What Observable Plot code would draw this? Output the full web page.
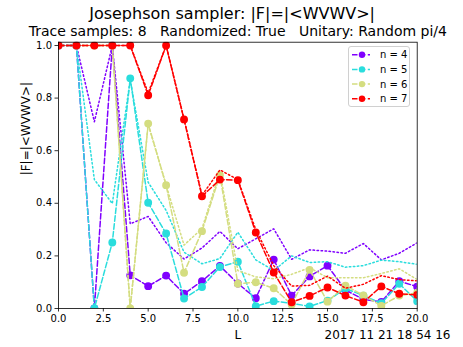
<!DOCTYPE html>
<html><head><meta charset="utf-8">
<script src="https://cdn.jsdelivr.net/npm/d3@7"></script>
<script src="https://cdn.jsdelivr.net/npm/@observablehq/plot@0.6"></script>
<style>
body{margin:0;background:#fff}
#wrap{position:relative;width:463px;height:347px;font-family:"DejaVu Sans",sans-serif}
svg text{white-space:pre}
#legend{position:absolute;left:348px;top:46px;width:62px;height:61px;border:1px solid #d0d0d0;border-radius:3px;background:rgba(255,255,255,0.8);box-sizing:border-box}
</style></head>
<body><div id="wrap"></div>
<script>
const L = [0,1,2,3,4,5,6,7,8,9,10,11,12,13,14,15,16,17,18,19,20];
const seriesNames = ["n = 4","n = 5","n = 6","n = 7"];
const seriesColors = ["#8000ff","#2adddd","#d4dd80","#ff0000"];
const sampled4 = [1,1,0,1,0.126,0.085,0.125,0.056,0.104,0.162,0.095,0.039,0.186,0.049,0.122,0.163,0.07,0.035,0.025,0.104,0.083];
const exact4   = [1,1,0.71,1,0.322,0.35,0.25,0.188,0.23,0.293,0.227,0.265,0.303,0.187,0.223,0.218,0.21,0.247,0.185,0.21,0.25];
const sampled5 = [1,1,0,0.251,0.875,0.402,0.285,0.038,0.082,0.158,0.178,0.009,0.028,0.02,0.008,0.03,0.076,0.049,0.02,0.094,0.028];
const exact5   = [1,1,0.49,0.399,0.87,0.48,0.373,0.214,0.17,0.19,0.29,0.185,0.144,0.2,0.175,0.178,0.157,0.163,0.184,0.178,0.168];
const sampled6 = [1,1,1,1,0,0.703,0.469,0.136,0.294,0.507,0.094,0.1,0.077,0.015,0.147,0.026,0.087,0.05,0.01,0.049,0.06];
const exact6   = [1,1,1,1,0,0.7,0.47,0.241,0.304,0.52,0.144,0.12,0.113,0.13,0.155,0.117,0.117,0.117,0.133,0.151,0.11];
const sampled7 = [1,1,1,1,1,0.811,1,0.719,0.427,0.49,0.488,0.289,0.137,0.024,0.048,0.08,0.049,0.024,0.084,0.056,0.052];
const exact7   = [1,1,1,1,1,0.82,1,0.72,0.43,0.527,0.49,0.30,0.163,0.085,0.088,0.123,0.077,0.092,0.125,0.11,0.105];
const xTicks = [0,2.5,5,7.5,10,12.5,15,17.5,20];
const yTicks = [0,0.2,0.4,0.6,0.8,1.0];
const titleText = "Josephson sampler: |F|=|<WVWV>|";
const subtitleText = "Trace samples: 8   Randomized: True   Unitary: Random pi/4";
const xLabel = "L";
const yLabel = "|F|=|<WVWV>|";
const dateText = "2017 11 21 18 54 16";

const sampled = [sampled4, sampled5, sampled6, sampled7];
const exact = [exact4, exact5, exact6, exact7];

const marks = [];
sampled.forEach((s, i) => {
  const color = seriesColors[i];
  const rowsS = L.map((l, j) => ({L: l, v: s[j]}));
  const rowsE = L.map((l, j) => ({L: l, v: exact[i][j]}));
  marks.push(Plot.line(rowsS, {x: "L", y: "v", stroke: color, strokeWidth: 1.5, strokeDasharray: "5.5,2.4", clip: true}));
  marks.push(Plot.dot(rowsS, {x: "L", y: "v", fill: color, stroke: color, r: 3.2, clip: true}));
  marks.push(Plot.line(rowsE, {x: "L", y: "v", stroke: color, strokeWidth: 1.5, strokeDasharray: "1.5,2.5", clip: true}));
});

marks.push(Plot.frame({stroke: "black", strokeWidth: 0.8}));
marks.push(Plot.axisX({ticks: xTicks, tickFormat: d => d.toFixed(1), tickSize: 3.5, tickPadding: 3, label: null, stroke: "black", strokeWidth: 0.8}));
marks.push(Plot.axisY({ticks: yTicks, tickFormat: d => d.toFixed(1), tickSize: 3.5, tickPadding: 3, label: null, stroke: "black", strokeWidth: 0.8}));
marks.push(Plot.text([titleText], {frameAnchor: "top", lineAnchor: "middle", dx: -5.8, dy: -28.5, fontSize: 16, fill: "black"}));
marks.push(Plot.text([subtitleText], {frameAnchor: "top", lineAnchor: "middle", dy: -10.6, fontSize: 14, fill: "black"}));
marks.push(Plot.text([xLabel], {frameAnchor: "bottom", lineAnchor: "middle", dy: 26.5, fontSize: 12, fill: "black"}));
marks.push(Plot.text([dateText], {frameAnchor: "bottom-right", lineAnchor: "middle", textAnchor: "end", dx: 33.3, dy: 26.5, fontSize: 12, fill: "black"}));
marks.push(Plot.text([yLabel], {frameAnchor: "left", lineAnchor: "middle", rotate: -90, dx: -32, fontSize: 12, fill: "black"}));

const chart = Plot.plot({
  width: 463, height: 347,
  marginLeft: 58, marginRight: 46.3, marginTop: 41.7, marginBottom: 39,
  x: {domain: [0, 20]},
  y: {domain: [0, 1.0125]},
  style: {fontFamily: "DejaVu Sans", fontSize: "10px", color: "black", background: "white"},
  marks
});
const wrap = document.getElementById("wrap");
wrap.appendChild(chart);

// legend
const leg = d3.select(wrap).append("div").attr("id", "legend");
const lsvg = leg.append("svg").attr("width", 60).attr("height", 59).style("display", "block");
seriesNames.forEach((name, i) => {
  const g = lsvg.append("g").attr("transform", `translate(0,${7.7 + i * 14.7})`);
  g.append("line").attr("x1", 3).attr("x2", 21).attr("y1", 0).attr("y2", 0)
    .attr("stroke", seriesColors[i]).attr("stroke-width", 1.5).attr("stroke-dasharray", "5.5,2.4");
  g.append("circle").attr("cx", 13).attr("cy", 0).attr("r", 3.2).attr("fill", seriesColors[i]);
  g.append("text").attr("x", 31).attr("y", 0).attr("dy", "0.35em").attr("font-size", 10)
    .attr("font-family", "DejaVu Sans").text(name);
});
</script></body></html>
